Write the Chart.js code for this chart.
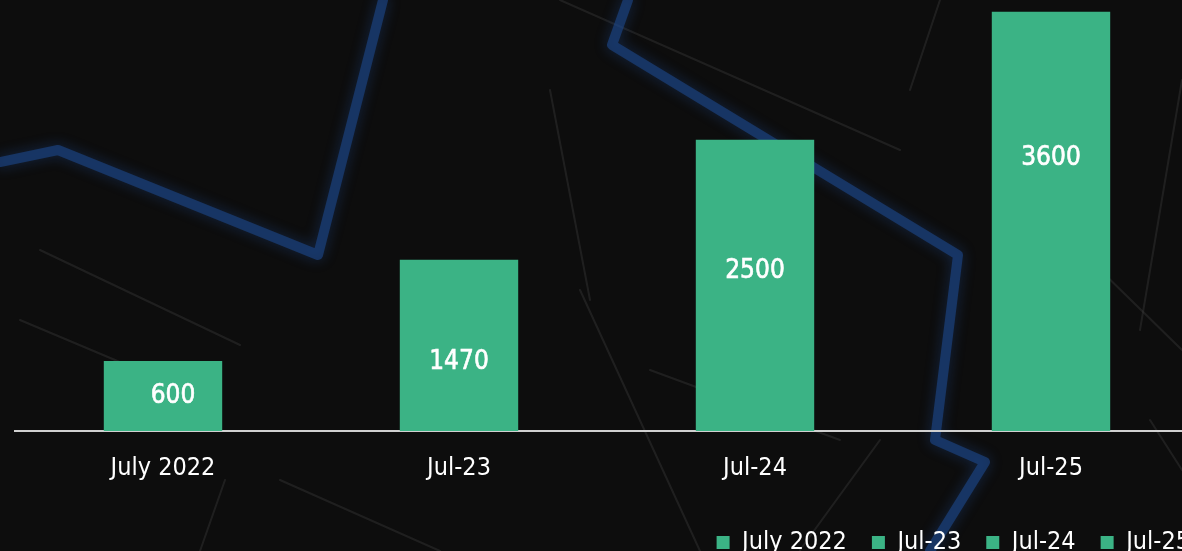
<!DOCTYPE html>
<html>
<head>
<meta charset="utf-8">
<script src="https://cdn.jsdelivr.net/npm/chart.js@4"></script>
<style>
  html, body { margin: 0; padding: 0; background: #0d0d0d; overflow: hidden; }
  #wrap { width: 1200px; height: 551px; }
</style>
</head>
<body>
<div id="wrap"><canvas id="growthChart" width="1200" height="551"></canvas></div>
<script>
var categories = ["July 2022", "Jul-23", "Jul-24", "Jul-25"];
var values = [600, 1470, 2500, 3600];
var barColor = "#3bb385";
var fontFamily = "'DejaVu Sans Condensed', 'Liberation Sans Narrow', sans-serif";

// dark map-like backdrop
var backdrop = {
    id: 'backdrop',
    beforeDraw: function (chart) {
        var ctx = chart.ctx;
        ctx.save();
        ctx.fillStyle = "#0d0d0d";
        ctx.fillRect(0, 0, chart.width, chart.height);
        ctx.lineCap = "round";
        ctx.lineJoin = "round";
        // faint street lines
        ctx.strokeStyle = "rgba(60,60,60,0.4)";
        ctx.lineWidth = 2;
        [[[40, 250], [240, 345]], [[20, 320], [210, 400]], [[280, 480], [440, 551]],
         [[225, 480], [200, 551]], [[560, 0], [900, 150]], [[940, 0], [910, 90]],
         [[550, 90], [590, 300]], [[650, 370], [840, 440]], [[580, 290], [700, 551]],
         [[1182, 80], [1140, 330]], [[1090, 260], [1182, 350]], [[1150, 420], [1182, 470]],
         [[800, 550], [880, 440]]].forEach(function (seg) {
            ctx.beginPath();
            ctx.moveTo(seg[0][0], seg[0][1]);
            ctx.lineTo(seg[1][0], seg[1][1]);
            ctx.stroke();
        });
        // blue routes
        ctx.strokeStyle = "rgba(29,72,140,0.6)";
        ctx.lineWidth = 10;
        ctx.shadowColor = "rgba(40,100,200,0.5)";
        ctx.shadowBlur = 14;
        [[[0, 162], [58, 150], [318, 255], [383, 0]],
         [[628, 0], [612, 45], [958, 255], [935, 440], [985, 462], [930, 551]]].forEach(function (path) {
            ctx.beginPath();
            ctx.moveTo(path[0][0], path[0][1]);
            for (var i = 1; i < path.length; i++) ctx.lineTo(path[i][0], path[i][1]);
            ctx.stroke();
        });
        ctx.restore();
    },
    afterLayout: function (chart) {
        // legend runs past the right edge in the original
        chart.legend.left += 16;
        chart.legend.right += 16;
    }
};

// value labels inside the bars
var barLabels = {
    id: 'barLabels',
    afterDatasetsDraw: function (chart, args, opts) {
        var ctx = chart.ctx;
        var meta = chart.getDatasetMeta(0);
        ctx.save();
        ctx.fillStyle = "#ffffff";
        ctx.strokeStyle = "#ffffff";
        ctx.lineWidth = 0.6;
        ctx.font = "26px " + fontFamily;
        ctx.textAlign = "center";
        ctx.textBaseline = "middle";
        meta.data.forEach(function (bar, i) {
            var f = opts.anchor[i];
            var y = bar.base - (bar.base - bar.y) * f;
            var x = bar.x + (opts.shiftX[i] || 0);
            ctx.fillText(values[i], x, y);
            ctx.strokeText(values[i], x, y);
        });
        ctx.restore();
    }
};

var ctx = document.getElementById("growthChart").getContext('2d');
var growthChart = new Chart(ctx, {
    type: 'bar',
    data: {
        labels: categories,
        datasets: [{
            data: values,
            backgroundColor: barColor,
            categoryPercentage: 1,
            barPercentage: 0.4
        }]
    },
    plugins: [backdrop, barLabels],
    options: {
        responsive: false,
        animation: false,
        devicePixelRatio: 1,
        layout: { padding: { left: 15, right: 1, top: 0, bottom: -14 } },
        scales: {
            x: {
                grid: { display: false, drawTicks: false },
                border: { display: true, color: "#d0d0d0", width: 2 },
                ticks: { color: "#ffffff", font: { family: fontFamily, size: 25 }, padding: 22, maxRotation: 0 },
                afterFit: function (scale) { scale.height = 74; }
            },
            y: {
                display: false,
                min: 0,
                max: 3700
            }
        },
        plugins: {
            tooltip: { enabled: false },
            barLabels: { anchor: [0.5, 0.4, 0.55, 0.65], shiftX: [10, 0, 0, 0] },
            legend: {
                position: 'bottom',
                align: 'end',
                labels: {
                    color: "#ffffff",
                    boxWidth: 13,
                    boxHeight: 13,
                    padding: 25,
                    font: { family: fontFamily, size: 25 },
                    generateLabels: function (chart) {
                        return categories.map(function (c) {
                            return { text: c, fillStyle: barColor, strokeStyle: barColor, lineWidth: 0, fontColor: "#ffffff" };
                        });
                    }
                },
                onClick: null
            }
        }
    }
});
</script>
</body>
</html>
